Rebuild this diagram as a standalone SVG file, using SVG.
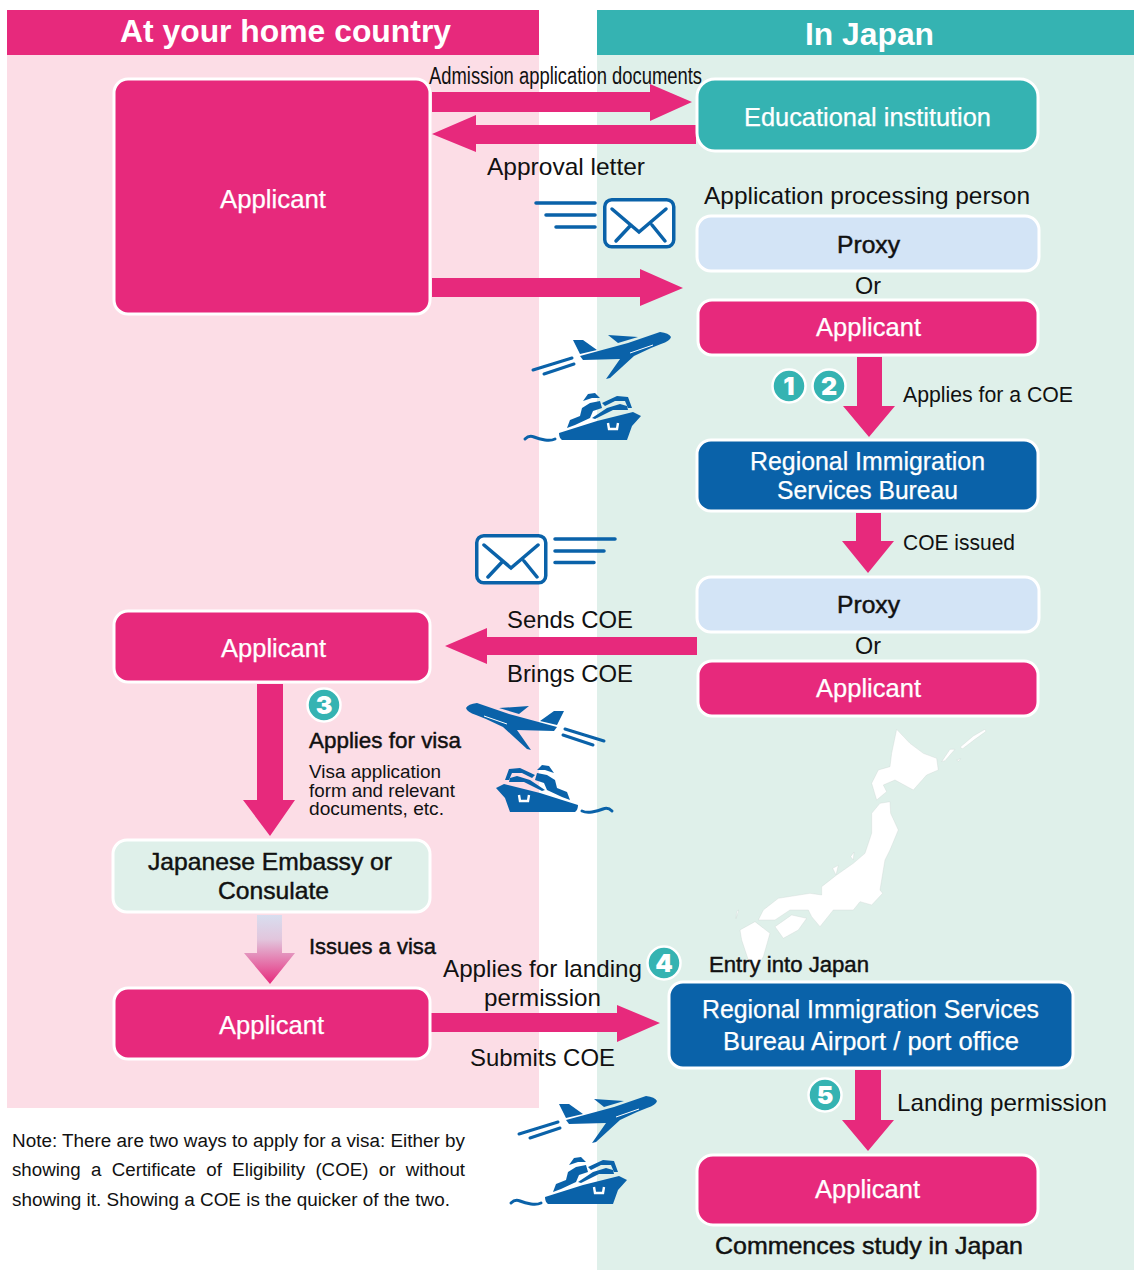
<svg xmlns="http://www.w3.org/2000/svg" xmlns:xlink="http://www.w3.org/1999/xlink" width="1134" height="1270" viewBox="0 0 1134 1270">
<style>
text{font-family:"Liberation Sans",Arial,sans-serif;fill:#111}
.w{fill:#fff;font-size:25px;stroke:#fff;stroke-width:.25px}
.k{font-size:24px}
.s{stroke:#111;stroke-width:.45px}
.sm{font-size:18.500px}
.n{font-size:18px}
.box{stroke:#fff;stroke-width:3}
.pink{fill:#e7297c}.blue{fill:#0a62a9}.teal{fill:#35b3b2}.lb{fill:#d3e4f6}.mint{fill:#dff0ea}
.arr{fill:#e7297c}
.num{fill:#35b3b2;stroke:#fff;stroke-width:2.5}
.nt{fill:#fff;font-family:Inter,"Liberation Sans",sans-serif;font-size:25px;font-weight:900;text-anchor:middle}
.ic{fill:#0a62a9}
.il{stroke:#0a62a9;stroke-width:3.5;stroke-linecap:round;fill:none}
.map{fill:#fff;stroke:#c8d2ce;stroke-width:1}
</style>
<defs>
<linearGradient id="fade" x1="0" y1="915" x2="0" y2="984" gradientUnits="userSpaceOnUse"><stop offset="0" stop-color="#d8deef"/><stop offset="0.35" stop-color="#e2c6dd"/><stop offset="1" stop-color="#e7297c"/></linearGradient>
<g id="plane">
<path class="ic" d="M47 24L95 11L127 0Q136 1 138 5Q137 9 128 12L118 16L101 24L77 46L73 47L87 27L50 28Z"/>
<path d="M97 21L120 13" stroke="#fff" stroke-width="1" fill="none"/>
<path class="ic" d="M40 8L50 8L64 18L47 22ZM75 3L105 5L85 11Z"/>
<path d="M0 38L39 26M11 42L41 32" stroke="#0a62a9" stroke-width="3" stroke-linecap="round" fill="none"/>
</g>
<g id="ship">
<path class="ic" d="M35 40L73 28L109 19L117 23L108 33L103 47L38 47Q35 45 35 40Z"/>
<path class="ic" d="M43 35L46 27L56 23L58 15L66 10L76 8L78 15L69 18L66 25L51 32ZM59 8L64 1L71 0L76 5L68 5ZM78 10L93 3L104 4L108 15L104 15L101 8L91 8L81 13ZM68 25L83 15L96 11L103 13L104 17L89 17L71 26Z"/>
<path d="M84 30L85 36L93 36L94 30" stroke="#fff" stroke-width="2.4" fill="none"/>
<path d="M1 46Q5 42 10 44T21 47T31 46" stroke="#0a62a9" stroke-width="3" fill="none" stroke-linecap="round"/>
</g>
<g id="env">
<rect x="1.750" y="1.750" width="69" height="47" rx="7" fill="#fff" stroke="#0a62a9" stroke-width="3.500"/>
<path class="il" d="M9 11L36 34L63 11M28 27L13 43M49 27L62 43"/>
</g>
</defs>

<g id="panels">
<rect x="7" y="55" width="532" height="1053" fill="#fcdde6"/>
<rect x="597" y="55" width="537" height="1215" fill="#dff0ea"/>
<rect x="7" y="10" width="532" height="45" fill="#e7297c"/>
<rect x="597" y="10" width="537" height="45" fill="#35b3b2"/>
<text x="120" y="42" font-size="32" font-weight="bold" style="fill:#fff" textLength="331" lengthAdjust="spacingAndGlyphs">At your home country</text>
<text x="805" y="45" font-size="32" font-weight="bold" style="fill:#fff" textLength="129" lengthAdjust="spacingAndGlyphs">In Japan</text>
</g>

<g id="japan-map" transform="translate(720 720) scale(.3333)">
<path class="map" d="M530 28L570 70L610 100L650 115L655 150L620 165L580 210L525 180L490 195L500 215L470 240L455 190L475 150L510 140L515 100Z"/>
<path class="map" d="M480 250L510 245L512 280L535 330L510 390L495 420L480 510L488 520L455 555L420 545L400 570L340 570L300 620L275 590L265 570L210 570L165 600L115 600L130 570L175 535L270 520L305 525L305 500L350 465L400 430L435 400L455 340L455 280Z"/>
<path class="map" d="M165 620L215 585L260 595L235 630L190 655Z"/>
<path class="map" d="M60 630L105 605L150 640L130 710L100 760L85 720L65 660Z"/>
<path class="map" d="M720 82L760 48L795 28L798 34L765 58L728 86ZM665 125L690 88L705 88L675 122ZM710 120L722 116L716 124ZM338 445L355 436L348 465ZM392 410L402 396L400 420ZM50 575L56 570L48 596Z"/>
</g>

<g id="connectors">
<path class="arr" d="M432 92H650V84L692 102L650 121V112H432Z"/>
<path class="arr" d="M696 125H476V115L432 134L476 152V144H696Z"/>
<path class="arr" d="M432 278H640V269L683 288L640 306V297H432Z"/>
<path class="arr" d="M857 357H882V406H895L869 437L843 406H857Z"/>
<path class="arr" d="M856 513H881V541H894L868 573L842 541H856Z"/>
<path class="arr" d="M697 637H487V628L445 646L487 664V655H697Z"/>
<path class="arr" d="M257 684H283V800H295L270 836L243 800H257Z"/>
<path d="M257 915H282V953H295L270 984L244 953H257Z" fill="url(#fade)"/>
<path class="arr" d="M431 1013H617V1005L660 1023L617 1042V1032H431Z"/>
<path class="arr" d="M855 1070H881V1120H894L868 1151L842 1120H855Z"/>
</g>

<g id="icons">
<path class="il" d="M536 203H595M546 215H595M556 227H595M555 539H615M555 551H604M555 562.500H594"/>
<use href="#env" xlink:href="#env" transform="translate(603 198)"/>
<use href="#env" xlink:href="#env" transform="translate(475 534)"/>
<use href="#plane" xlink:href="#plane" transform="translate(533 332)"/>
<use href="#ship" xlink:href="#ship" transform="translate(524 393)"/>
<use href="#plane" xlink:href="#plane" transform="translate(604 703) scale(-1 1)"/>
<use href="#ship" xlink:href="#ship" transform="translate(613 765) scale(-1 1)"/>
<use href="#plane" xlink:href="#plane" transform="translate(519 1096)"/>
<use href="#ship" xlink:href="#ship" transform="translate(510 1157)"/>
</g>

<g id="node-applicant-1"><rect class="box pink" x="114" y="79" width="316" height="235" rx="14"/><text class="w" x="220" y="208" textLength="106" lengthAdjust="spacingAndGlyphs">Applicant</text></g>
<g id="node-education"><rect class="box teal" x="697" y="79" width="341" height="72" rx="18"/><text class="w" x="744" y="126" textLength="247" lengthAdjust="spacingAndGlyphs">Educational institution</text></g>
<g id="node-proxy-1"><rect class="box lb" x="697" y="216" width="342" height="55" rx="14"/><text class="k s" x="837" y="253" textLength="63" lengthAdjust="spacingAndGlyphs">Proxy</text></g>
<g id="node-applicant-2"><rect class="box pink" x="698" y="300" width="340" height="55" rx="14"/><text class="w" x="816" y="336" textLength="105" lengthAdjust="spacingAndGlyphs">Applicant</text></g>
<g id="node-bureau"><rect class="box blue" x="697" y="440" width="341" height="71" rx="14"/><text class="w" x="750" y="470" textLength="235" lengthAdjust="spacingAndGlyphs">Regional Immigration</text><text class="w" x="777" y="499" textLength="181" lengthAdjust="spacingAndGlyphs">Services Bureau</text></g>
<g id="node-proxy-2"><rect class="box lb" x="697" y="577" width="342" height="55" rx="14"/><text class="k s" x="837" y="613" textLength="63" lengthAdjust="spacingAndGlyphs">Proxy</text></g>
<g id="node-applicant-3"><rect class="box pink" x="698" y="661" width="340" height="55" rx="14"/><text class="w" x="816" y="697" textLength="105" lengthAdjust="spacingAndGlyphs">Applicant</text></g>
<g id="node-applicant-4"><rect class="box pink" x="114" y="611" width="316" height="71" rx="14"/><text class="w" x="221" y="657" textLength="105" lengthAdjust="spacingAndGlyphs">Applicant</text></g>
<g id="node-embassy"><rect class="box mint" x="113" y="840" width="317" height="72" rx="14"/><text class="k s" x="148" y="870" textLength="244" lengthAdjust="spacingAndGlyphs">Japanese Embassy or</text><text class="k s" x="218" y="899" textLength="111" lengthAdjust="spacingAndGlyphs">Consulate</text></g>
<g id="node-applicant-5"><rect class="box pink" x="114" y="988" width="316" height="71" rx="14"/><text class="w" x="219" y="1034" textLength="105" lengthAdjust="spacingAndGlyphs">Applicant</text></g>
<g id="node-airport"><rect class="box blue" x="669" y="982" width="404" height="86" rx="14"/><text class="w" x="702" y="1018" textLength="337" lengthAdjust="spacingAndGlyphs">Regional Immigration Services</text><text class="w" x="723" y="1050" textLength="296" lengthAdjust="spacingAndGlyphs">Bureau Airport / port office</text></g>
<g id="node-applicant-6"><rect class="box pink" x="697" y="1155" width="341" height="70" rx="16"/><text class="w" x="815" y="1198" textLength="105" lengthAdjust="spacingAndGlyphs">Applicant</text></g>

<g id="badges">
<circle class="num" cx="789" cy="386" r="16.500"/><text class="nt" x="789" y="395">1</text>
<circle class="num" cx="829" cy="386" r="16.500"/><text class="nt" x="829" y="395">2</text>
<circle class="num" cx="324" cy="705" r="16.500"/><text class="nt" x="324" y="714">3</text>
<circle class="num" cx="664" cy="963" r="16.500"/><text class="nt" x="664" y="972">4</text>
<circle class="num" cx="825" cy="1095" r="16.500"/><text class="nt" x="825" y="1104">5</text>
</g>

<g id="labels">
<text x="429" y="84" font-size="23" textLength="273" lengthAdjust="spacingAndGlyphs">Admission application documents</text>
<text class="k" x="487" y="175" textLength="158" lengthAdjust="spacingAndGlyphs">Approval letter</text>
<text class="k" x="704" y="204" textLength="326" lengthAdjust="spacingAndGlyphs">Application processing person</text>
<text class="k" x="855" y="294" textLength="26" lengthAdjust="spacingAndGlyphs">Or</text>
<text x="903" y="402" font-size="22" textLength="170" lengthAdjust="spacingAndGlyphs">Applies for a COE</text>
<text x="903" y="550" font-size="22" textLength="112" lengthAdjust="spacingAndGlyphs">COE issued</text>
<text class="k" x="507" y="628" textLength="126" lengthAdjust="spacingAndGlyphs">Sends COE</text>
<text class="k" x="855" y="654" textLength="26" lengthAdjust="spacingAndGlyphs">Or</text>
<text class="k" x="507" y="682" textLength="126" lengthAdjust="spacingAndGlyphs">Brings COE</text>
<text class="s" x="309" y="748" font-size="22" textLength="152" lengthAdjust="spacingAndGlyphs">Applies for visa</text>
<text class="sm" x="309" y="778" textLength="132" lengthAdjust="spacingAndGlyphs">Visa application</text>
<text class="sm" x="309" y="797" textLength="146" lengthAdjust="spacingAndGlyphs">form and relevant</text>
<text class="sm" x="309" y="815" textLength="135" lengthAdjust="spacingAndGlyphs">documents, etc.</text>
<text class="s" x="309" y="954" font-size="22" textLength="127" lengthAdjust="spacingAndGlyphs">Issues a visa</text>
<text class="k" x="443" y="977" textLength="199" lengthAdjust="spacingAndGlyphs">Applies for landing</text>
<text class="k" x="484" y="1006" textLength="117" lengthAdjust="spacingAndGlyphs">permission</text>
<text class="k" x="470" y="1066" textLength="145" lengthAdjust="spacingAndGlyphs">Submits COE</text>
<text class="s" x="709" y="972" font-size="22" textLength="160" lengthAdjust="spacingAndGlyphs">Entry into Japan</text>
<text class="k" x="897" y="1111" textLength="210" lengthAdjust="spacingAndGlyphs">Landing permission</text>
<text class="k s" x="715" y="1254" textLength="308" lengthAdjust="spacingAndGlyphs">Commences study in Japan</text>
<text class="n" x="12" y="1147" textLength="453" lengthAdjust="spacingAndGlyphs">Note: There are two ways to apply for a visa: Either by</text>
<text class="n" x="12" y="1176" word-spacing="5" textLength="453" lengthAdjust="spacingAndGlyphs">showing a Certificate of Eligibility (COE) or without</text>
<text class="n" x="12" y="1206" textLength="438" lengthAdjust="spacingAndGlyphs">showing it. Showing a COE is the quicker of the two.</text>
</g>
</svg>
